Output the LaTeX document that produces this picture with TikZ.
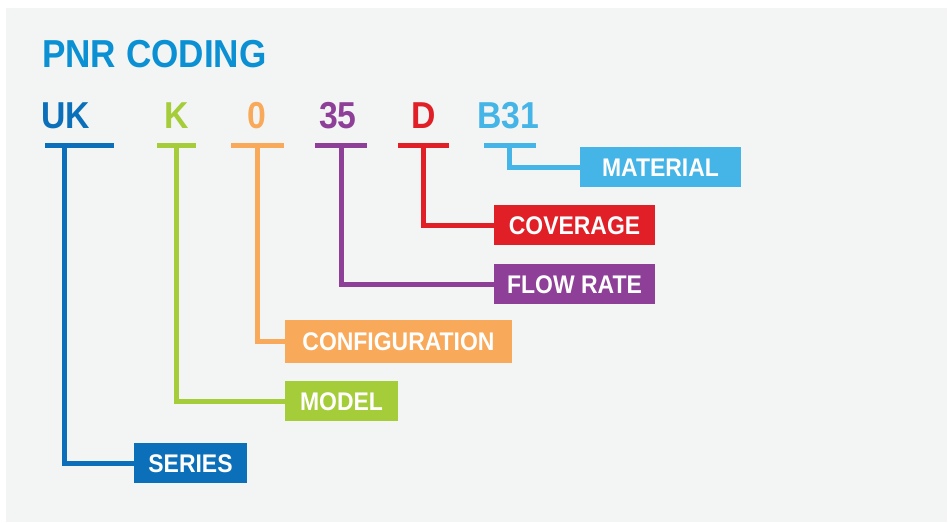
\documentclass[tikz,border=0pt]{standalone}
\usepackage{fontspec}
\setmainfont{Liberation Sans}[FakeStretch=0.9]
\definecolor{bgc}{HTML}{F3F5F4}
\definecolor{titlec}{HTML}{0A90D3}
\definecolor{seriesc}{HTML}{0B70B9}
\definecolor{modelc}{HTML}{A5CD39}
\definecolor{configc}{HTML}{F9A95A}
\definecolor{flowc}{HTML}{8E4098}
\definecolor{coverc}{HTML}{E11F26}
\definecolor{matc}{HTML}{45B4E6}
\tikzset{
  codetxt/.style={anchor=base west,inner sep=0pt,font=\fontsize{37.5}{40}\selectfont\bfseries},
  labelbox/.style={fill=#1,text=white,inner sep=0pt,minimum height=40pt,
     font=\fontsize{25.5}{28}\selectfont\bfseries,text height=18pt,text depth=0pt,align=center},
  bar/.style={draw=#1,line width=5pt},
  conn/.style={draw=#1,line width=5pt,line join=miter}
}
\begin{document}
\begin{tikzpicture}[x=1pt,y=-1pt]
\useasboundingbox (0,0) rectangle (949,522);
\fill[bgc] (6,8) rectangle (947,522);
\node[anchor=base west,inner sep=0pt,text=titlec,font=\fontsize{39}{44}\selectfont\bfseries] (title) at (42,67) {PNR CODING};
% codes
\node[codetxt,text=seriesc] (uk) at (41,128.5) {UK};
\node[codetxt,text=modelc] (k) at (164,128.5) {K};
\node[codetxt,text=configc] (zero) at (247,128.5) {0};
\node[codetxt,text=flowc] (tf) at (319,128.5) {35};
\node[codetxt,text=coverc] (d) at (411,128.5) {D};
\node[codetxt,text=matc] (b) at (477,128.5) {B31};
% bars
\draw[bar=seriesc] (45,145.5) -- (114,145.5);
\draw[bar=modelc] (157,145.5) -- (196,145.5);
\draw[bar=configc] (231,145.5) -- (284,145.5);
\draw[bar=flowc] (315,145.5) -- (367,145.5);
\draw[bar=coverc] (398,145.5) -- (449,145.5);
\draw[bar=matc] (484,145.5) -- (536,145.5);
\coordinate (ukbar) at (64.5,145.5);
\coordinate (kbar) at (176.5,145.5);
\coordinate (zerobar) at (257.5,145.5);
\coordinate (tfbar) at (341,145.5);
\coordinate (dbar) at (423.5,145.5);
\coordinate (bbar) at (509.5,145.5);
% boxes
\node[labelbox=matc,minimum width=161pt] (material) at (660.5,167) {MATERIAL};
\node[labelbox=coverc,minimum width=161pt] (coverage) at (574.5,225) {COVERAGE};
\node[labelbox=flowc,minimum width=161pt] (flow) at (574.5,284) {FLOW RATE};
\node[labelbox=configc,minimum width=227pt,minimum height=43pt] (config) at (398.5,341) {CONFIGURATION};
\node[labelbox=modelc,minimum width=113pt] (model) at (341.5,401) {MODEL};
\node[labelbox=seriesc,minimum width=113pt] (series) at (190.5,463) {SERIES};
% connectors
\draw[conn=matc] (bbar) |- (material.west);
\draw[conn=coverc] (dbar) |- (coverage.west);
\draw[conn=flowc] (tfbar) |- (flow.west);
\draw[conn=configc] (zerobar) |- (config.west);
\draw[conn=modelc] (kbar) |- (model.west);
\draw[conn=seriesc] (ukbar) |- (series.west);
\end{tikzpicture}
\end{document}
